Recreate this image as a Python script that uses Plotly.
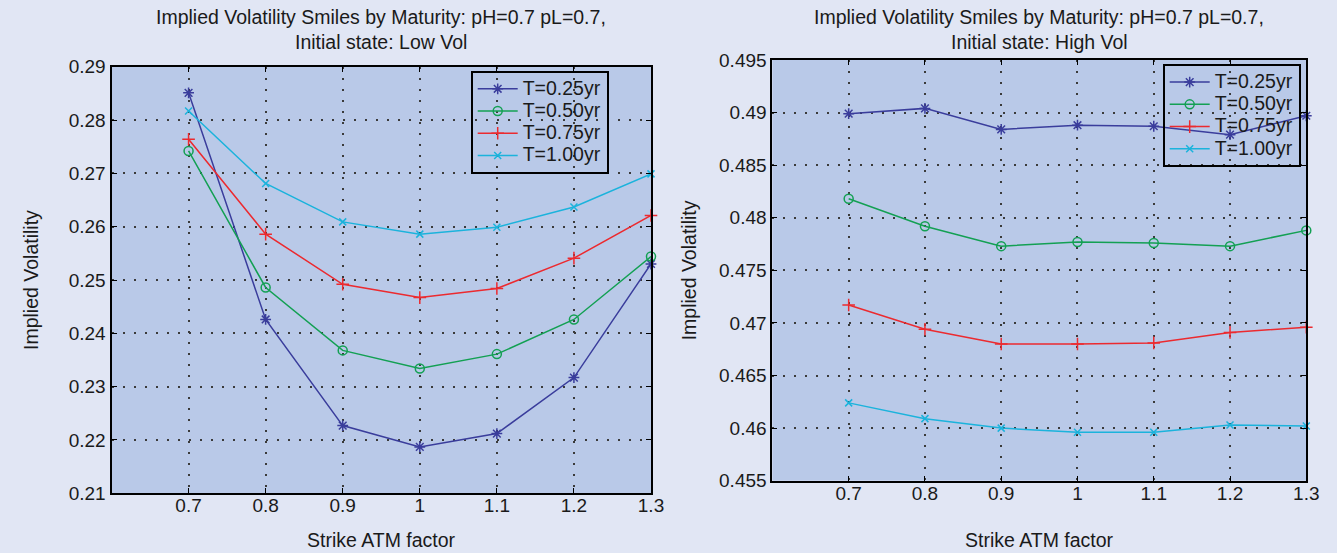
import plotly.graph_objects as go

# ---------------- data ----------------
strikes = [0.7, 0.8, 0.9, 1.0, 1.1, 1.2, 1.3]
maturity_labels = ["T=0.25yr", "T=0.50yr", "T=0.75yr", "T=1.00yr"]

low_T025 = [0.2851, 0.2426, 0.2227, 0.2187, 0.2212, 0.2317, 0.2530]
low_T050 = [0.2742, 0.2486, 0.2368, 0.2334, 0.2361, 0.2426, 0.2544]
low_T075 = [0.2764, 0.2586, 0.2492, 0.2467, 0.2484, 0.2541, 0.2621]
low_T100 = [0.2817, 0.2681, 0.2609, 0.2586, 0.2599, 0.2637, 0.2699]

high_T025 = [0.4899, 0.4904, 0.4884, 0.4888, 0.4887, 0.4879, 0.4897]
high_T050 = [0.4818, 0.4792, 0.4773, 0.4777, 0.4776, 0.4773, 0.4788]
high_T075 = [0.4717, 0.4694, 0.4680, 0.4680, 0.4681, 0.4691, 0.4696]
high_T100 = [0.4624, 0.4609, 0.4600, 0.4596, 0.4596, 0.4603, 0.4602]

x_tickvals = [0.7, 0.8, 0.9, 1.0, 1.1, 1.2, 1.3]
x_ticktext = ["0.7", "0.8", "0.9", "1", "1.1", "1.2", "1.3"]
low_tickvals = [0.21, 0.22, 0.23, 0.24, 0.25, 0.26, 0.27, 0.28, 0.29]
low_ticktext = ["0.21", "0.22", "0.23", "0.24", "0.25", "0.26", "0.27", "0.28", "0.29"]
high_tickvals = [0.455, 0.46, 0.465, 0.47, 0.475, 0.48, 0.485, 0.49, 0.495]
high_ticktext = ["0.455", "0.46", "0.465", "0.47", "0.475", "0.48", "0.485", "0.49", "0.495"]

title_low = ["Implied Volatility Smiles by Maturity: pH=0.7 pL=0.7,", "Initial state: Low Vol"]
title_high = ["Implied Volatility Smiles by Maturity: pH=0.7 pL=0.7,", "Initial state: High Vol"]
xlabel = "Strike ATM factor"
ylabel = "Implied Volatility"

# ---------------- style ----------------
W, H = 1337, 553
FONT = "Liberation Sans, Arial, Helvetica, sans-serif"
TXT = "#1a1a1a"
PAPER = "#e1e6f4"
PLOT = "#b9c9e8"
colors = ["#3a3d9c", "#13a053", "#ec2a2f", "#1bb3dc"]
symbols = ["asterisk-open", "circle-open", "cross-thin-open", "x-thin-open"]
msizes = [9, 9, 9, 7]
LEG_TXT = 19.5

def px_x(p):
    return p / W

def px_y(p):
    return 1 - p / H

def leg_name(s):
    return f'<span style="font-size:{LEG_TXT}px">{s}</span>'

fig = go.Figure()

low_series = [low_T025, low_T050, low_T075, low_T100]
high_series = [high_T025, high_T050, high_T075, high_T100]

for i, (lab, ys) in enumerate(zip(maturity_labels, low_series)):
    fig.add_trace(go.Scatter(
        x=strikes, y=ys, name=leg_name(lab), mode="lines+markers", cliponaxis=False,
        line=dict(color=colors[i], width=1.5),
        marker=dict(symbol=symbols[i], size=msizes[i], color=colors[i],
                    line=dict(color=colors[i], width=1.5)),
        xaxis="x", yaxis="y", legend="legend"))

for i, (lab, ys) in enumerate(zip(maturity_labels, high_series)):
    fig.add_trace(go.Scatter(
        x=strikes, y=ys, name=leg_name(lab), mode="lines+markers", cliponaxis=False,
        line=dict(color=colors[i], width=1.5),
        marker=dict(symbol=symbols[i], size=msizes[i], color=colors[i],
                    line=dict(color=colors[i], width=1.5)),
        xaxis="x2", yaxis="y2", legend="legend2"))

axis_common = dict(
    showline=True, linecolor="black", linewidth=2, mirror="allticks",
    ticks="inside", ticklen=5, tickcolor="black", tickwidth=1,
    showgrid=True, gridcolor="#3a3a3a", gridwidth=1.5, griddash="2px,9px",
    zeroline=False, automargin=False,
    tickfont=dict(family=FONT, size=19, color=TXT),
)

L_left, L_right, L_top, L_bot = 111.5, 651, 66.7, 493.3
R_left, R_right, R_top, R_bot = 772.4, 1306.3, 60, 480.7

leg_common = dict(xanchor="left", yanchor="top", bgcolor="rgba(0,0,0,0)",
                  bordercolor="black", borderwidth=2, itemwidth=40,
                  tracegroupgap=0, font=dict(family=FONT, size=14.8, color=TXT))

fig.update_layout(
    width=W, height=H,
    paper_bgcolor=PAPER, plot_bgcolor=PLOT,
    margin=dict(l=0, r=0, t=0, b=0, pad=0, autoexpand=False),
    font=dict(family=FONT, color=TXT),
    xaxis=dict(domain=[px_x(L_left), px_x(L_right)], range=[0.6, 1.3],
               tickvals=x_tickvals, ticktext=x_ticktext, anchor="y",
               ticklabelstandoff=-6, **axis_common),
    yaxis=dict(domain=[px_y(L_bot), px_y(L_top)], range=[0.21, 0.29],
               tickvals=low_tickvals, ticktext=low_ticktext, anchor="x", **axis_common),
    xaxis2=dict(domain=[px_x(R_left), px_x(R_right)], range=[0.6, 1.3],
                tickvals=x_tickvals, ticktext=x_ticktext, anchor="y2",
                ticklabelstandoff=-6, **axis_common),
    yaxis2=dict(domain=[px_y(R_bot), px_y(R_top)], range=[0.455, 0.495],
                tickvals=high_tickvals, ticktext=high_ticktext, anchor="x2", **axis_common),
    legend=dict(x=px_x(470.7), y=px_y(70.7), **leg_common),
    legend2=dict(x=px_x(1162.7), y=px_y(64), **leg_common),
    showlegend=True,
)

ann = []
for cx, lines in [((L_left + L_right) / 2, title_low), ((R_left + R_right) / 2, title_high)]:
    for yy, t in zip([17, 42], lines):
        ann.append(dict(x=px_x(cx), y=px_y(yy), xref="paper", yref="paper", text=t,
                        showarrow=False, xanchor="center", yanchor="middle",
                        font=dict(family=FONT, size=19.5, color=TXT)))
for cx in [(L_left + L_right) / 2, (R_left + R_right) / 2]:
    ann.append(dict(x=px_x(cx), y=px_y(540), xref="paper", yref="paper", text=xlabel,
                    showarrow=False, xanchor="center", yanchor="middle",
                    font=dict(family=FONT, size=19.5, color=TXT)))
for cx, cy in [(31, (L_top + L_bot) / 2), (689, (R_top + R_bot) / 2)]:
    ann.append(dict(x=px_x(cx), y=px_y(cy), xref="paper", yref="paper", text=ylabel,
                    showarrow=False, xanchor="center", yanchor="middle", textangle=-90,
                    font=dict(family=FONT, size=19.5, color=TXT)))
fig.update_layout(annotations=ann)

fig.write_html(
    "out.html",
    config={"displayModeBar": False},
    post_script="document.body.style.margin='0';document.body.style.overflow='hidden';",
)
